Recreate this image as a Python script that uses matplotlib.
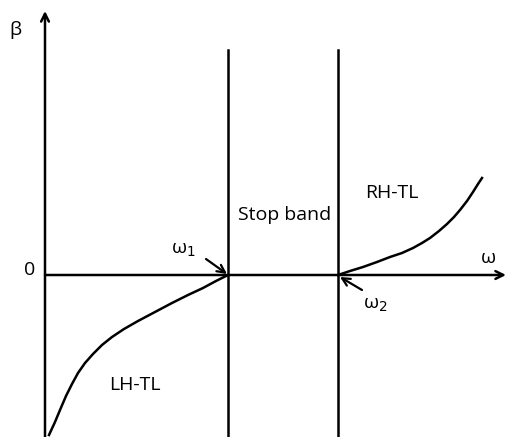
import matplotlib
matplotlib.use("Agg")
import matplotlib.pyplot as plt

# Schematic coordinates (origin at axis crossing, units ~ pixels)
lh_x = [4, 10, 15, 21, 27, 33, 40, 48, 57, 67, 79, 93, 110, 127, 143, 158, 171, 183]
lh_y = [-160, -147, -135, -121, -109, -98, -88, -79, -70, -62, -54, -46, -37, -28, -20, -13, -6, 0]
rh_x = [293, 305, 318, 332, 345, 357, 368, 377, 385, 394, 402, 409, 415, 422, 428, 433, 437]
rh_y = [0, 4, 8, 13, 18, 22, 27, 32, 37, 44, 51, 58, 65, 74, 83, 91, 97]
band_edges = [183, 293]

fig = plt.figure(figsize=(5.08, 4.37), dpi=100)
ax = fig.add_axes([0, 0, 1, 1])
ax.set_xlim(-45, 463)
ax.set_ylim(-162, 275)
ax.axis("off")

fam = ["Open Sans", "DejaVu Sans"]
lw = 1.8
# axes arrows
ax.annotate("", xy=(461, 0), xytext=(0, 0),
            arrowprops=dict(arrowstyle="->", lw=lw, color="black", mutation_scale=14, shrinkA=0, shrinkB=0))
ax.annotate("", xy=(0, 264), xytext=(0, -162),
            arrowprops=dict(arrowstyle="->", lw=lw, color="black", mutation_scale=14, shrinkA=0, shrinkB=0))
for xe in band_edges:
    ax.plot([xe, xe], [-162, 225], color="black", lw=lw)

ax.plot(lh_x, lh_y, color="black", lw=lw, solid_joinstyle="round")
ax.plot(rh_x, rh_y, color="black", lw=lw, solid_joinstyle="round")

# arrows to omega1, omega2
ax.annotate("", xy=(182, 1), xytext=(161, 16),
            arrowprops=dict(arrowstyle="->", lw=1.6, color="black", mutation_scale=14, shrinkA=0, shrinkB=0))
ax.annotate("", xy=(295, -2), xytext=(317, -15),
            arrowprops=dict(arrowstyle="->", lw=1.6, color="black", mutation_scale=14, shrinkA=0, shrinkB=0))

fs = 14
ax.text(-30, 245, "β", fontsize=fs, family=fam, ha="center", va="center")
ax.text(-15, 5, "0", fontsize=fs, family=fam, ha="center", va="center")
ax.text(443, 17, "ω", fontsize=fs, family=fam, ha="center", va="center")
ax.text(138, 25, r"ω$_1$", fontsize=fs, family=fam, ha="center", va="center")
ax.text(330, -30, r"ω$_2$", fontsize=fs, family=fam, ha="center", va="center")
ax.text(240, 60, "Stop band", fontsize=fs, family=fam, ha="center", va="center")
ax.text(347, 82, "RH-TL", fontsize=fs, family=fam, ha="center", va="center")
ax.text(90, -110, "LH-TL", fontsize=fs, family=fam, ha="center", va="center")

fig.savefig("out.png", dpi=100)
